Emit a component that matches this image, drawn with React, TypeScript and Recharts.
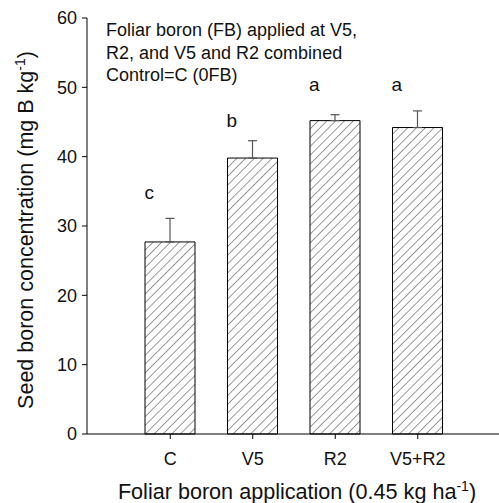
import React from 'react';
import {
  Bar,
  ComposedChart,
  ErrorBar,
  Line,
  XAxis,
  YAxis,
} from 'recharts';

const treatments = ['C', 'V5', 'R2', 'V5+R2'];
const boronMeans = [27.7, 39.8, 45.2, 44.2];
const boronErrors = [3.4, 2.5, 0.85, 2.4];
const letters = ['c', 'b', 'a', 'a'];
const letterHeights = [34.9, 45.2, 50.5, 50.5];
const yTicks = [0, 10, 20, 30, 40, 50, 60];
const noteLines = [
  'Foliar boron (FB) applied at V5,',
  'R2, and V5 and R2 combined',
  'Control=C (0FB)',
];

const data = treatments.map((name, i) => ({
  name,
  mean: boronMeans[i],
  err: [0, boronErrors[i]],
  letterY: letterHeights[i],
  letter: letters[i],
}));

const FONT = '"Liberation Sans", Arial, Helvetica, sans-serif';
const INK = '#111';

const LetterMark = (props: any) => {
  if (props.cx == null || props.cy == null) return null;
  return (
    <text
      key={props.index}
      x={props.cx - 21}
      y={props.cy}
      dy="0.355em"
      textAnchor="middle"
      fontSize={19}
      fontFamily={FONT}
      fill={INK}
    >
      {props.payload.letter}
    </text>
  );
};

const XTitle = () => (
  <text
    x={297}
    y={499}
    textAnchor="middle"
    fontSize={21.6}
    fontFamily={FONT}
    fill={INK}
  >
    Foliar boron application (0.45 kg ha
    <tspan dy={-8} fontSize={14}>-1</tspan>
    <tspan dy={8}>)</tspan>
  </text>
);

const YTitle = (props: any) => {
  const vb = props.viewBox;
  const cy = vb.y + vb.height / 2 + 4;
  return (
    <text
      x={33}
      y={cy}
      transform={`rotate(-90, 33, ${cy})`}
      textAnchor="middle"
      fontSize={21.5}
      fontFamily={FONT}
      fill={INK}
    >
      Seed boron concentration (mg B kg
      <tspan dy={-8} fontSize={14}>-1</tspan>
      <tspan dy={8}>)</tspan>
    </text>
  );
};

export default function App() {
  return (
    <div
      style={{
        position: 'absolute',
        left: 0,
        top: 0,
        width: 499,
        height: 503,
        overflow: 'hidden',
        background: '#fff',
      }}
    >
      {/* the x axis runs off the right edge in the source figure, so the
          chart is a little wider than the frame and clipped */}
      <ComposedChart
        width={506}
        height={503}
        data={data}
        margin={{ top: 18, right: 0, bottom: 0, left: 0 }}
      >
        <defs>
          <pattern
            id="hatch"
            patternUnits="userSpaceOnUse"
            width={6.2}
            height={6.2}
            patternTransform="rotate(45)"
          >
            <rect width={6.2} height={6.2} fill="#fff" />
            <line x1={0} y1={0} x2={0} y2={6.2} stroke="#333" strokeWidth={1} />
          </pattern>
        </defs>
        <XAxis
          dataKey="name"
          type="category"
          height={69}
          padding={{ left: 42, right: 47 }}
          stroke="#000"
          tickSize={5}
          tickMargin={13}
          tickLine={{ stroke: '#000' }}
          tick={{ fontSize: 18, fontFamily: FONT, fill: INK }}
          label={<XTitle />}
        />
        <YAxis
          type="number"
          domain={[0, 60]}
          ticks={yTicks}
          width={87}
          stroke="#000"
          tickSize={5}
          tickMargin={5}
          tickLine={{ stroke: '#000' }}
          tick={{ fontSize: 18, fontFamily: FONT, fill: INK }}
          label={<YTitle />}
        />
        <Bar
          dataKey="mean"
          barSize={50}
          fill="url(#hatch)"
          stroke="#000"
          strokeWidth={1}
          isAnimationActive={false}
        >
          <ErrorBar
            dataKey="err"
            width={4.5}
            stroke="#555"
            strokeWidth={1.2}
            direction="y"
          />
        </Bar>
        <Line
          dataKey="letterY"
          stroke="none"
          dot={<LetterMark />}
          activeDot={false}
          isAnimationActive={false}
        />
        <text fontSize={18} fontFamily={FONT} fill={INK}>
          {noteLines.map((line, i) => (
            <tspan key={i} x={106} y={36 + i * 22.5}>
              {line}
            </tspan>
          ))}
        </text>
      </ComposedChart>
    </div>
  );
}
